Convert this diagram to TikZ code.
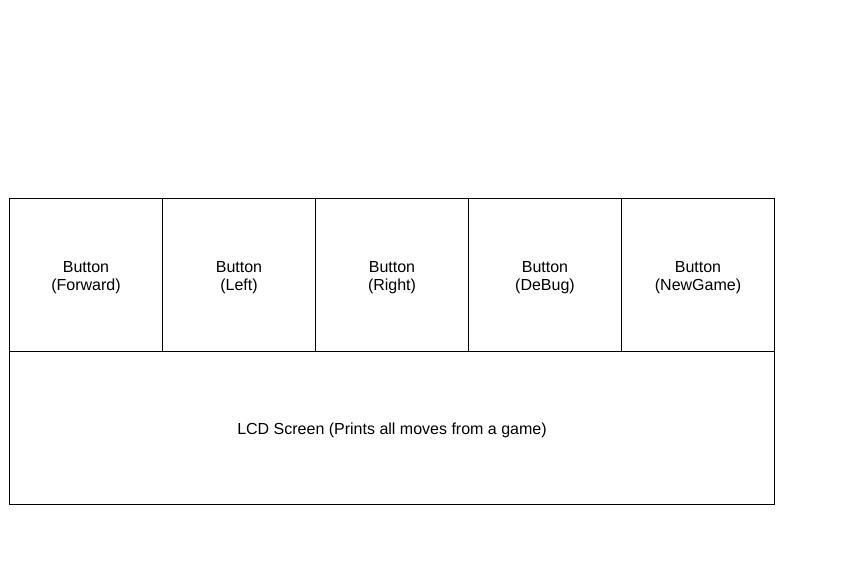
\documentclass[tikz,border=0pt]{standalone}
\usepackage{fontspec}
\setmainfont{Liberation Sans}
\begin{document}
\begin{tikzpicture}[x=1pt,y=-1pt,
  cell/.style={draw=black,line width=0.8pt,minimum width=153pt,minimum height=153pt,
    inner sep=0pt,outer sep=0pt,anchor=north west},
  wide/.style={cell,minimum width=765pt},
  txt/.style={label={[align=center,yshift=-2.5pt,inner sep=0pt,
    font=\fontsize{16pt}{18pt}\selectfont]center:#1}}]
\useasboundingbox (0,0) rectangle (846,576);
\fill[white] (0,0) rectangle (846,576);
\node[cell,txt={Button\\(Forward)}] (fwd) at (9.5,198.5) {};
\node[cell,txt={Button\\(Left)}] (left) at (162.5,198.5) {};
\node[cell,txt={Button\\(Right)}] (right) at (315.5,198.5) {};
\node[cell,txt={Button\\(DeBug)}] (debug) at (468.5,198.5) {};
\node[cell,txt={Button\\(NewGame)}] (newgame) at (621.5,198.5) {};
\node[wide,txt={LCD Screen (Prints all moves from a game)}] (lcd) at (9.5,351.5) {};
\end{tikzpicture}
\end{document}
